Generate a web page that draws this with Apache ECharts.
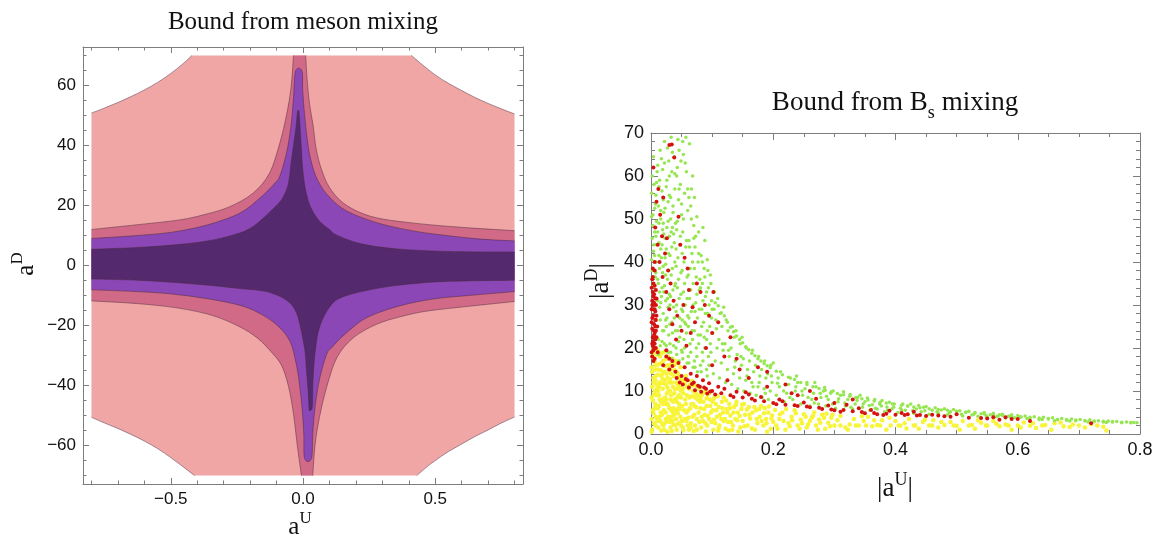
<!DOCTYPE html>
<html><head><meta charset="utf-8">
<script src="https://cdn.jsdelivr.net/npm/echarts@6/dist/echarts.min.js"></script>
<style>html,body{margin:0;padding:0;background:#fff}#c{width:1156px;height:542px}</style>
</head><body><div id="c"></div>
<script>
// ---------- Left panel: tick values ----------
const leftXTicks = [-0.5, 0, 0.5];
const leftXMinor = [-0.8,-0.7,-0.6,-0.4,-0.3,-0.2,-0.1,0.1,0.2,0.3,0.4,0.6,0.7,0.8];
const leftYTicks = [-60,-40,-20,0,20,40,60];
const leftYMinor = [-70,-65,-55,-50,-45,-35,-30,-25,-15,-10,-5,5,10,15,25,30,35,45,50,55,65,70];

// ---------- Left panel: contour regions (outlines) ----------
const region1 = [[-0.42,70],[0.41,70],[0.45,67],[0.5,63.5],[0.55,60.7],[0.6,58.3],[0.65,56],[0.7,54],[0.75,52.2],[0.8,50.5],[0.8,-50.5],[0.75,-52.5],[0.7,-54.8],[0.65,-57],[0.6,-59.5],[0.55,-62],[0.5,-65],[0.47,-67],[0.43,-70],[-0.41,-70],[-0.45,-67.3],[-0.5,-64],[-0.55,-61],[-0.6,-58.5],[-0.65,-56.3],[-0.7,-54.3],[-0.75,-52.5],[-0.8,-50.6],[-0.8,50.8],[-0.75,52.5],[-0.7,54.3],[-0.65,56.3],[-0.6,58.5],[-0.55,61],[-0.5,64],[-0.45,67.5]];
const region2 = [[-0.8,12],[-0.626,13.6],[-0.467,15.2],[-0.367,17.1],[-0.277,19.6],[-0.189,24.1],[-0.127,30.7],[-0.088,40.7],[-0.062,50.3],[-0.045,59.5],[-0.036,70],[0.01,70],[0.016,61.7],[0.025,53.7],[0.038,46.8],[0.05,38.8],[0.07,32],[0.1,26],[0.15,21],[0.22,17.5],[0.3,15.5],[0.412,14.2],[0.542,13.1],[0.671,12.3],[0.8,11.6],[0.8,-12],[0.627,-13.6],[0.468,-15.2],[0.368,-17.1],[0.278,-19.6],[0.19,-24.1],[0.128,-30.7],[0.089,-40.7],[0.063,-50.3],[0.046,-59.5],[0.037,-70],[-0.006,-70],[-0.022,-59.7],[-0.036,-49.4],[-0.055,-40.2],[-0.081,-33.3],[-0.12,-28.8],[-0.172,-24.2],[-0.24,-20.4],[-0.341,-16.7],[-0.471,-14.2],[-0.626,-12.7],[-0.8,-11.8]];
const region3 = [[-0.8,9],[-0.626,10],[-0.496,11.1],[-0.367,13.4],[-0.24,17.4],[-0.159,22.8],[-0.107,27.4],[-0.088,29.7],[-0.062,37.7],[-0.045,46.8],[-0.036,56],[-0.028,64.8],[-0.004,64.8],[-0.001,58.3],[0.006,50.3],[0.016,42.3],[0.029,35.4],[0.055,28.5],[0.1,22.8],[0.165,18.2],[0.282,14.2],[0.412,11.6],[0.542,10],[0.671,8.8],[0.8,8.2],[0.8,-8.7],[0.627,-10],[0.498,-11.1],[0.368,-13.4],[0.241,-17.4],[0.16,-22.8],[0.108,-27.4],[0.089,-29.7],[0.063,-37.7],[0.046,-46.8],[0.037,-56],[0.032,-64.3],[0.006,-64.3],[0.003,-56.2],[-0.003,-48.2],[-0.014,-39.1],[-0.027,-32.2],[-0.049,-25.3],[-0.094,-20.2],[-0.159,-16.2],[-0.237,-13.3],[-0.367,-11],[-0.496,-9.5],[-0.626,-8.7],[-0.8,-8.1]];
const region4 = [[-0.8,5.4],[-0.626,6],[-0.496,6.8],[-0.367,8.1],[-0.263,10.2],[-0.19,12.9],[-0.107,19.4],[-0.075,22.8],[-0.055,27.4],[-0.045,34.2],[-0.036,40],[-0.027,45.7],[-0.022,50.3],[-0.018,51.8],[-0.014,50.3],[-0.01,44.6],[-0.006,38.8],[-0.001,32],[0.01,25.1],[0.029,19.4],[0.062,14.8],[0.1,12],[0.126,10.2],[0.217,7.3],[0.347,5.6],[0.542,4.7],[0.8,4.5],[0.8,-4.9],[0.542,-5.3],[0.412,-6.1],[0.282,-7.6],[0.152,-10.4],[0.1,-13.9],[0.062,-20.7],[0.046,-28.8],[0.038,-37.9],[0.035,-47.1],[0.026,-48.2],[0.023,-47.7],[0.019,-41.4],[0.013,-34.8],[0.007,-28.2],[-0.012,-19.6],[-0.029,-15],[-0.063,-11.5],[-0.138,-8.7],[-0.237,-7.7],[-0.367,-6.5],[-0.496,-5.6],[-0.626,-4.9],[-0.8,-4.5]];

// ---------- Right panel: scatter points ----------
const greenPoints = [
[0.002,38],[0.004,42.5],[0.006,47],[0.003,51],[0.008,55.5],[0.005,58],[0.009,44],[0.007,36.5],[0.002,45.5],[0.004,33],[0.009,49.5],[0.006,52.5],[0.003,29],[0.008,40],[0.01,61],
[0.001,40.5],[0.005,44],[0.008,37.5],[0.003,48.5],[0.007,53.5],[0.001,56],[0.009,58.5],[0.005,34.5],[0.006,41.5],[0.002,60],[0.004,64.5],[0.008,46],[0.001,50.5],
[0.012,22],[0.015,26.5],[0.011,31],[0.018,34],[0.014,38.5],[0.017,41],[0.013,44.5],[0.019,47.5],[0.016,50],[0.012,53],[0.018,56.5],[0.014,59],[0.02,28],[0.011,36],[0.016,43],[0.019,24],[0.013,49],[0.017,64],[0.015,20.5],[0.02,39],
[0.011,25],[0.014,29.5],[0.017,32],[0.012,35],[0.019,37.5],[0.013,41.5],[0.018,44],[0.011,47],[0.016,52],[0.02,54.5],[0.013,57.5],[0.019,61.5],[0.015,66],[0.012,18.5],[0.018,21.5],[0.016,30.5],[0.014,33],[0.02,49],[0.011,62.5],
[0.022,21],[0.025,25],[0.028,29.5],[0.021,33],[0.027,36],[0.024,39.5],[0.029,42],[0.023,45.5],[0.026,48],[0.021,51.5],[0.028,54],[0.025,57.5],[0.03,60],[0.022,63],[0.027,66.5],[0.024,31],[0.029,23],[0.026,27],[0.023,41],[0.03,46],
[0.021,24],[0.024,26.5],[0.027,31.5],[0.022,34.5],[0.029,38],[0.025,43],[0.021,46.5],[0.028,49.5],[0.023,52.5],[0.03,55.5],[0.026,59],[0.022,68],[0.029,63.5],[0.025,20.5],[0.028,19],[0.024,37],[0.03,32.5],
[0.032,19],[0.035,23.5],[0.038,27],[0.031,30],[0.036,33.5],[0.033,37],[0.039,40],[0.034,43.5],[0.037,46.5],[0.032,50],[0.036,53],[0.039,57],[0.034,61],[0.038,64.5],[0.031,25.5],[0.04,35],[0.035,48],[0.033,69],
[0.031,21],[0.034,26],[0.037,29.5],[0.032,32],[0.039,34.5],[0.035,38.5],[0.031,41.5],[0.038,44.5],[0.033,47],[0.04,49],[0.036,51.5],[0.032,55],[0.039,60.5],[0.035,65.5],[0.037,20.5],[0.034,17.5],[0.04,24],
[0.042,18.5],[0.045,21.5],[0.048,25],[0.041,28.5],[0.046,31.5],[0.043,34],[0.049,37.5],[0.044,41],[0.047,44],[0.042,47.5],[0.05,51],[0.045,54.5],[0.048,58],[0.043,62],[0.046,66],[0.05,29],[0.041,39],[0.047,22.5],
[0.041,20],[0.044,24],[0.047,27],[0.042,30],[0.049,32.5],[0.045,36],[0.041,43],[0.048,46],[0.043,49.5],[0.05,53.5],[0.046,57],[0.042,60],[0.049,63.5],[0.044,68.5],[0.05,19.5],[0.046,17],
[0.052,17.5],[0.055,20],[0.058,23.5],[0.051,26.5],[0.056,30],[0.053,33],[0.059,36.5],[0.054,40],[0.057,43.5],[0.052,47],[0.06,52],[0.055,56],[0.058,61],[0.053,65],[0.057,69],[0.06,27.5],[0.051,38],
[0.051,19],[0.054,22],[0.057,25.5],[0.052,28.5],[0.059,31.5],[0.055,35],[0.051,42],[0.058,45],[0.053,50],[0.06,57],[0.056,63],[0.052,68],[0.059,16.5],[0.055,26],
[0.062,16.5],[0.065,19],[0.068,22],[0.061,25],[0.066,28.5],[0.063,31.5],[0.069,35],[0.064,38.5],[0.067,42],[0.062,45],[0.07,48.5],[0.065,53],[0.068,60],[0.063,67.5],[0.066,57],
[0.061,18],[0.064,21],[0.067,24],[0.062,27],[0.069,30],[0.065,33.5],[0.061,37],[0.068,40],[0.063,43.5],[0.07,45.5],[0.066,50],[0.062,55],[0.069,15.5],
[0.072,15.5],[0.075,18],[0.078,21],[0.071,24],[0.076,27],[0.073,30.5],[0.079,33.5],[0.074,36.5],[0.077,40],[0.072,43.5],[0.078,47],[0.075,50.5],[0.071,55],
[0.071,17],[0.074,20],[0.077,23],[0.072,28.5],[0.079,29],[0.075,32.5],[0.071,38.5],[0.078,42],[0.073,46],[0.08,36],[0.076,14.5],
[0.082,14.5],[0.085,17],[0.088,20],[0.081,23],[0.086,26],[0.083,29],[0.089,32],[0.084,35],[0.087,38.5],[0.082,41.5],[0.088,45],[0.085,48],
[0.081,16],[0.084,19],[0.087,22.5],[0.083,25],[0.089,28],[0.085,31],[0.081,34],[0.088,36.5],[0.084,40],
[0.092,13.5],[0.095,16],[0.098,19],[0.091,22],[0.096,25],[0.093,28],[0.099,31],[0.094,34],[0.097,37],[0.092,40.5],
[0.091,15],[0.094,18],[0.097,21],[0.092,24],[0.099,27],[0.095,30],[0.091,33],[0.098,35],[0.093,38],[0.1,29],
[0.102,14],[0.105,17],[0.108,20],[0.101,23.5],[0.106,26.5],[0.103,29],[0.109,31.5],[0.112,13],[0.115,16.5],[0.118,19.5],[0.111,22],[0.116,25],[0.113,28],[0.119,29.5],[0.104,33],
[0.122,12],[0.125,15],[0.128,18],[0.121,21],[0.126,24],[0.123,26.5],[0.132,11.5],[0.135,14],[0.138,17],[0.131,20],[0.136,22.5],[0.133,25],[0.142,10.5],[0.145,13],[0.148,16],[0.141,18.5],[0.146,21],[0.149,22.5],[0.139,24],
[0.152,10],[0.155,12.5],[0.158,15],[0.151,17.5],[0.156,20],[0.162,9.5],[0.165,12],[0.168,14.5],[0.161,17],[0.166,19.5],[0.172,9],[0.175,11],[0.178,13.5],[0.171,16],[0.176,18],[0.182,8.5],[0.185,10.5],[0.188,13],[0.181,15],[0.186,17],[0.192,8],[0.195,10],[0.198,12],[0.191,14],[0.196,16],[0.2,16.5],
[0.205,9],[0.21,11],[0.208,13],[0.212,14.5],[0.218,7.5],[0.222,9.5],[0.225,11.5],[0.228,13],[0.232,8],[0.236,10],[0.24,12],[0.238,13.5],[0.245,7],[0.248,9],[0.252,10.5],[0.255,12],[0.26,6.5],[0.263,8],[0.266,9.5],[0.27,11],[0.274,7],[0.278,8.5],[0.282,10],[0.286,6.5],[0.29,8],[0.294,9.5],[0.298,10],[0.268,12],[0.284,10.8],
[0.302,6],[0.306,7.5],[0.31,9],[0.315,9.8],[0.318,6.5],[0.322,8],[0.326,9.2],[0.33,5.8],[0.334,7],[0.338,8.5],[0.342,9],[0.346,6.2],[0.35,7.5],[0.354,8.4],[0.358,5.5],[0.362,6.8],[0.366,8],[0.37,5.8],[0.374,7],[0.378,7.8],[0.382,5.2],[0.386,6.3],[0.39,7.4],[0.394,5.8],[0.398,7],
[0.404,5],[0.408,6],[0.412,7],[0.416,5.5],[0.42,6.5],[0.425,7],[0.43,4.8],[0.434,5.8],[0.438,6.6],[0.442,5.2],[0.446,6.2],[0.45,6.4],[0.455,4.6],[0.46,5.5],[0.465,6.1],[0.47,4.8],[0.475,5.6],[0.48,5.9],[0.485,4.5],[0.49,5.2],[0.495,5.7],[0.5,4.8],
[0.505,5.4],[0.51,4.2],[0.515,5],[0.52,5.3],[0.525,4.4],[0.53,5],[0.535,4.1],[0.54,4.7],[0.545,5],[0.55,3.9],[0.555,4.5],[0.56,4.8],[0.565,4],[0.57,4.5],[0.575,4.6],[0.58,3.7],[0.585,4.2],[0.59,4.5],[0.595,3.8],[0.6,4.3],
[0.605,3.9],[0.612,4.2],[0.62,3.6],[0.627,4],[0.635,3.4],[0.642,3.9],[0.65,3.6],[0.657,3.8],[0.665,3.3],[0.672,3.6],[0.68,3.2],[0.688,3.5],[0.695,3.1],[0.702,3.4],[0.71,3],[0.718,3.3],[0.725,2.9],[0.732,3.1],[0.74,2.8],[0.748,3],[0.755,2.8],[0.762,2.9],[0.77,2.6],[0.778,2.8],[0.785,2.6],[0.79,2.7],
[0.105,30.5],[0.11,29.8],[0.115,28.2],[0.12,27.5],[0.125,26],[0.13,24.8],[0.135,23.8],[0.14,22.8],[0.145,22],[0.15,21.2],[0.155,20.3],[0.16,19.6],[0.165,18.8],[0.17,18.2],[0.175,17.5],[0.18,17],[0.185,16.4],[0.19,15.9],[0.195,15.4],[0.205,14.6],[0.215,13.8],[0.225,13.2],[0.235,12.7],[0.245,12],[0.255,11.5],[0.265,11],[0.275,10.6],[0.285,10.2],[0.295,9.8],[0.305,9.4],[0.315,9.1],[0.325,8.8],[0.335,8.5],[0.345,8.2],[0.355,7.9],[0.365,7.7],[0.375,7.4],[0.385,7.2],[0.395,7],[0.41,6.7],[0.42,6.5],[0.43,6.3],[0.44,6.1],[0.455,5.9],[0.47,5.7],[0.485,5.5],[0.5,5.3],[0.515,5.1],[0.53,4.9],[0.545,4.7],[0.56,4.5],[0.575,4.3],[0.59,4.1],[0.605,4],[0.62,3.9],[0.635,3.7],[0.65,3.5],[0.665,3.4],[0.68,3.35],[0.695,3.25],[0.71,3.15],[0.725,3.05],[0.74,2.95],[0.755,2.9],[0.77,2.75],[0.785,2.7],[0.795,2.6],
[0.107,24.5],[0.117,21],[0.127,19.5],[0.137,15.5],[0.147,18],[0.157,13.5],[0.167,11],[0.177,12],[0.187,9.5],[0.197,13.5],[0.207,11.8],[0.217,10],[0.227,8.5],[0.237,11],[0.247,10],[0.257,8.5],[0.267,7.2],[0.277,9.5],[0.287,8.8],[0.297,7],[0.307,8.2],[0.317,7.2],[0.327,6.2],[0.337,7.8],[0.347,7],[0.357,6.6],[0.367,6],[0.377,6.5],[0.387,5.6],[0.397,6.2],[0.41,5.6],[0.428,5.4],[0.448,5.4],[0.468,5.2],[0.488,4.9],[0.508,4.6],[0.528,4.6],[0.548,4.3],[0.568,4.2],[0.588,3.9],[0.615,3.6],[0.64,3.4],[0.66,3.1],[0.685,3],[0.715,2.8],[0.745,2.7]
];
const redPoints = [
[0.002,18],[0.004,19.5],[0.006,21],[0.003,22.5],[0.008,24],[0.005,25.5],[0.002,27],[0.007,28.5],[0.004,30],[0.009,31.5],[0.003,33],[0.006,34.5],[0.002,36],[0.005,23],[0.007,26.5],[0.003,29],[0.008,20],[0.004,32],[0.006,17.5],[0.002,24.5],[0.009,27.5],[0.005,30.5],[0.003,20.5],[0.007,22],[0.004,35],[0.01,25],[0.011,19],[0.006,38],[0.002,31],[0.008,33.5],
[0.001,19],[0.003,21.5],[0.005,24],[0.007,25],[0.001,26],[0.004,27.5],[0.006,29],[0.002,30],[0.008,30],[0.005,32.5],[0.001,34],[0.007,31.5],[0.003,36.5],[0.006,23.5],[0.009,22.5],[0.004,17],[0.002,21],[0.008,26.5],[0.005,20],[0.003,38.5],[0.001,29],[0.006,40],
[0.004,62],[0.012,57],[0.009,54],[0.015,51],[0.007,48],[0.018,46],[0.011,44],[0.023,42],[0.014,40],[0.028,38],[0.019,36.5],[0.032,35],[0.025,33],[0.037,31],[0.03,29],[0.043,27.5],[0.035,25.5],[0.05,24],[0.041,22],[0.058,20.5],[0.03,67.2],[0.034,67.3],[0.038,64.3],[0.02,55],[0.045,50.5],[0.026,45.5],[0.055,41],[0.048,44],[0.062,33.5],[0.068,29.5],[0.075,35],[0.081,33],[0.072,26],[0.088,30],[0.095,27.5],[0.102,33],[0.06,38.5],[0.053,30],[0.065,23.5],[0.1,23.5],
[0.02,16],[0.03,15],[0.025,18],[0.035,17],[0.04,14.5],[0.045,16.5],[0.05,13.5],[0.055,15.5],[0.06,12.5],[0.065,14],[0.07,12],[0.075,13.5],[0.08,11],[0.085,12.5],[0.09,10.5],[0.095,11.8],[0.1,10],[0.11,11],[0.115,9.5],[0.12,10.5],[0.125,12.5],[0.13,9],[0.14,9.8],[0.145,15],[0.15,8.5],[0.16,9.2],[0.17,7.8],[0.18,8.6],[0.19,11],[0.2,7.2],[0.21,8],[0.22,6.8],[0.23,9.5],[0.24,6.5],[0.25,7.3],[0.26,6.2],[0.27,8.2],[0.28,5.8],[0.29,6.6],[0.3,5.5],[0.31,5.2],[0.32,6.8],[0.33,5.3],[0.34,6],[0.35,4.8],[0.36,5.6],[0.37,4.6],[0.38,4.4],[0.39,5.4],[0.4,4.5],[0.41,4.9],[0.42,4.6],[0.43,5.2],[0.44,4.4],[0.45,4.2],[0.46,4.5],[0.48,4.1],[0.5,4.6],[0.52,3.8],[0.55,3.6],[0.57,3.3],[0.58,3.9],[0.6,3.5],[0.62,3],[0.72,2.5],[0.16,13],[0.22,11.5],[0.12,18],[0.14,17.5],[0.1,16],[0.09,20],[0.11,26],[0.13,22.5],[0.175,15.5],[0.26,10],[0.33,8],[0.3,7.2],[0.19,14.5],[0.24,9],
[0.042,13],[0.047,12],[0.052,11.5],[0.057,12.8],[0.062,10.8],[0.067,11.6],[0.072,10.2],[0.077,11.2],[0.082,9.8],[0.087,10.8],[0.092,9.4],[0.097,9.9],[0.035,15.8],[0.03,17.5],[0.025,19.5],[0.105,9.2],[0.135,8.6],[0.155,9.7],[0.165,8.2],[0.185,7.6],[0.205,6.9],[0.215,7.6],[0.235,6.7],[0.255,6.4],[0.275,6.1],[0.295,5.7],[0.315,5.6],[0.345,5.1],[0.365,4.9],[0.385,4.7],[0.415,4.4],[0.435,4.3],[0.47,4.3],[0.49,4],[0.54,3.7],[0.56,3.9],[0.59,3.5]
];
const yellowPoints = [
[0.002,1],[0.005,2.5],[0.008,4],[0.003,5.5],[0.007,7],[0.001,8.5],[0.006,10],[0.009,11.5],[0.004,13],[0.002,14.5],[0.008,16],[0.005,17.5],[0.003,19],[0.01,3],[0.006,6],[0.009,9],[0.004,12],[0.007,15],[0.002,18],[0.001,0.5],
[0.001,3.5],[0.004,4.8],[0.007,2],[0.003,7.8],[0.009,6.5],[0.002,11],[0.005,9.2],[0.008,13.5],[0.001,15.5],[0.006,16.8],[0.004,19.8],[0.009,18.5],[0.007,12.5],[0.01,10.5],
[0.012,1.5],[0.015,3],[0.018,4.5],[0.011,6],[0.016,7.5],[0.013,9],[0.019,10.5],[0.014,12],[0.017,13.5],[0.012,15],[0.018,16.5],[0.015,18],[0.011,19.5],[0.02,2],[0.016,5],[0.013,11],[0.019,14],[0.014,8],[0.017,0.8],[0.02,17],
[0.011,3.5],[0.014,4],[0.018,2.5],[0.013,6.5],[0.019,8],[0.012,10],[0.016,11.8],[0.011,13.8],[0.019,12.8],[0.013,16.2],[0.017,18.8],[0.02,7],[0.016,14.8],
[0.022,1],[0.025,2.8],[0.028,4],[0.021,5.5],[0.026,7],[0.023,8.5],[0.029,10],[0.024,11.5],[0.027,13],[0.022,14.5],[0.028,16],[0.025,17.5],[0.021,19],[0.03,6],[0.026,9.5],[0.023,12.5],[0.029,15],[0.024,3.5],[0.027,0.5],
[0.021,2.2],[0.024,5],[0.028,6.8],[0.022,7.5],[0.027,10.8],[0.021,11.8],[0.026,14],[0.03,12],[0.023,15.8],[0.028,18],[0.03,3.5],[0.025,8],
[0.032,1.5],[0.035,3],[0.038,4.5],[0.031,6],[0.036,7.5],[0.033,9],[0.039,10.5],[0.034,12],[0.037,13.5],[0.032,15],[0.038,16],[0.035,17.5],[0.031,10],[0.04,2],[0.036,5],[0.033,14],[0.039,8],[0.034,0.7],
[0.031,2.8],[0.034,4],[0.037,6],[0.032,8],[0.038,9.5],[0.031,12.8],[0.036,11],[0.039,14.8],[0.034,16.5],[0.04,5.5],[0.033,5.5],[0.037,2.2],
[0.042,1],[0.045,2.5],[0.048,4],[0.041,5.5],[0.046,7],[0.043,8.5],[0.049,10],[0.044,11.5],[0.047,13],[0.042,14.5],[0.048,15.5],[0.045,6],[0.041,12],[0.05,3],[0.046,9],[0.043,16.5],
[0.041,3.5],[0.044,4.8],[0.047,5.8],[0.042,7.5],[0.049,8.5],[0.043,10.5],[0.047,11],[0.05,12.5],[0.044,14],[0.049,2],[0.046,13.5],[0.04,17],
[0.052,1.5],[0.055,3.5],[0.058,5],[0.051,6.5],[0.056,8],[0.053,9.5],[0.059,11],[0.054,12.5],[0.057,13.5],[0.062,1],[0.065,2.5],[0.068,4],[0.061,5.5],[0.066,7],[0.063,8.5],[0.069,10],[0.064,11.5],[0.067,12.3],[0.072,2],[0.075,3.5],[0.078,5],[0.071,6.5],[0.076,8],[0.073,9.5],[0.079,10.5],[0.074,11.2],[0.06,2],[0.07,0.7],
[0.051,3],[0.054,5.5],[0.057,7],[0.052,10.5],[0.059,9],[0.055,11.8],[0.058,3],[0.053,0.8],[0.061,3.8],[0.064,6],[0.067,8.8],[0.062,10.5],[0.069,7],[0.065,1.5],[0.068,11.3],[0.071,4.5],[0.074,6.2],[0.077,9],[0.072,8.5],[0.079,2.8],[0.075,1],[0.08,7.5],
[0.082,1.5],[0.085,3],[0.088,4.5],[0.081,6],[0.086,7.5],[0.083,9],[0.089,10],[0.092,2],[0.095,3.5],[0.098,5],[0.091,6.5],[0.096,8],[0.093,9.2],[0.102,1],[0.105,2.5],[0.108,4],[0.101,5.5],[0.106,7],[0.103,8.3],[0.112,2],[0.115,3.5],[0.118,5],[0.111,6.3],[0.116,7.5],[0.119,8.5],[0.09,0.6],[0.11,0.8],
[0.083,4],[0.087,5.8],[0.081,8.3],[0.089,2.5],[0.085,9.5],[0.093,4.2],[0.097,6.5],[0.091,8.3],[0.099,2.8],[0.095,9.5],[0.103,3.3],[0.107,5.5],[0.101,7.5],[0.109,8.8],[0.113,4.5],[0.117,6],[0.111,1.5],[0.119,3],
[0.122,1.2],[0.126,2.8],[0.13,4.3],[0.124,5.8],[0.128,7],[0.134,2],[0.138,3.5],[0.142,5],[0.136,6.3],[0.14,7.5],[0.146,1.5],[0.15,3],[0.154,4.5],[0.148,5.8],[0.152,7],[0.158,2],[0.162,3.6],[0.166,5],[0.16,6.3],[0.17,1],[0.174,2.5],[0.178,4],[0.172,5.5],[0.18,6.5],[0.184,2],[0.188,3.5],[0.192,5],[0.186,6],[0.196,1.2],[0.2,2.8],[0.198,4.3],[0.19,0.5],
[0.121,3.5],[0.125,5],[0.129,6],[0.123,7.8],[0.127,0.8],[0.131,2.8],[0.135,5],[0.139,6.8],[0.133,1],[0.141,3.2],[0.145,4.2],[0.149,6.8],[0.143,0.6],
[0.153,1.8],[0.157,5.7],[0.161,4.5],[0.165,1.3],[0.169,6.3],[0.173,3.5],[0.177,5.8],[0.181,3],[0.185,4.8],[0.189,2.5],[0.193,6.4],[0.197,3.6],
[0.205,2],[0.21,3.5],[0.215,5],[0.22,1],[0.225,2.5],[0.23,4],[0.235,5.5],[0.24,2],[0.245,3.3],[0.25,4.6],[0.255,1.5],[0.26,3],[0.265,4.2],[0.27,2],[0.275,3.4],[0.28,4.5],[0.285,1.2],[0.29,2.6],[0.295,3.8],[0.3,2],
[0.203,5.6],[0.207,1.2],[0.211,4.6],[0.217,3],[0.221,5.8],[0.227,1.8],[0.231,3.2],[0.237,4.8],[0.243,1.2],[0.247,2.5],[0.253,4],[0.257,2.2],[0.263,3.8],[0.267,5],[0.273,1],[0.277,2.6],[0.283,3.8],[0.287,4.7],[0.293,1.8],[0.297,4.5],
[0.305,3.2],[0.31,4.2],[0.318,1.5],[0.325,2.2],[0.332,3.5],[0.34,2],[0.348,3],[0.355,4],[0.362,1.8],[0.37,2.1],[0.378,3.2],[0.385,1],[0.392,2],[0.4,3],[0.408,1.9],[0.415,2.5],[0.422,3.5],[0.43,2],[0.438,1.2],[0.445,2.8],
[0.31,2],[0.322,1],[0.335,2],[0.345,4.1],[0.352,2],[0.365,3.2],[0.375,2],[0.39,3.8],[0.405,2],[0.418,1.3],[0.432,2],[0.448,3.3],
[0.455,2],[0.462,3.2],[0.47,1.5],[0.48,2.1],[0.49,2.8],[0.5,1.9],[0.51,3],[0.52,2],[0.53,1.2],[0.54,2.6],[0.55,2],[0.56,3],[0.57,1.8],[0.58,2.2],[0.59,1],[0.6,2],[0.61,2.7],[0.62,1.9],[0.63,1.4],[0.645,2.1],[0.66,2.5],[0.675,1.8],[0.69,2.2],[0.71,1.5],[0.73,2],[0.745,0.8],
[0.46,2],[0.475,2.8],[0.495,2],[0.505,1],[0.525,2.1],[0.535,3.2],[0.548,2],[0.565,2.4],[0.585,2],[0.605,1.5],[0.625,2.5],[0.64,2],[0.655,1],[0.67,2.7],[0.685,1.6],[0.7,2],[0.72,2.3],[0.74,1.7]
];

// ---------- styling ----------
const FRAME = '#7d7d7d';
const SANS = '"Liberation Sans", Arial, sans-serif';
const SERIF = '"Liberation Serif", "Times New Roman", serif';
const regionColors = ['#f1a6a6', '#d06a87', '#8a47b5', '#55296d'];
const edgeColor = 'rgba(70,40,55,0.6)';

function minus(v, d) {
  const s = Math.abs(v).toFixed(d);
  return v < 0 ? '\u2212' + s : s;
}

// a segment lying on the plotted data border (x=±0.8 or y=±70) is drawn straight and unstroked
function onEdge(a, b) {
  return (Math.abs(a[0]) >= 0.8 && a[0] === b[0]) || (Math.abs(a[1]) >= 70 && a[1] === b[1]);
}

function buildPaths(points, api) {
  const n = points.length;
  const P = points.map(p => api.coord(p));
  const edge = points.map((p, i) => onEdge(p, points[(i + 1) % n]));
  const f = v => v.toFixed(2);
  let fill = 'M' + f(P[0][0]) + ',' + f(P[0][1]);
  let stroke = '';
  let pen = false;
  for (let i = 0; i < n; i++) {
    const j = (i + 1) % n;
    const a = P[i], b = P[j];
    if (edge[i]) { fill += 'L' + f(b[0]) + ',' + f(b[1]); pen = false; continue; }
    const prev = edge[(i - 1 + n) % n] ? a : P[(i - 1 + n) % n];
    const next = edge[j] ? b : P[(j + 1) % n];
    const c1 = [a[0] + (b[0] - prev[0]) / 6, a[1] + (b[1] - prev[1]) / 6];
    const c2 = [b[0] - (next[0] - a[0]) / 6, b[1] - (next[1] - a[1]) / 6];
    const seg = 'C' + f(c1[0]) + ',' + f(c1[1]) + ' ' + f(c2[0]) + ',' + f(c2[1]) + ' ' + f(b[0]) + ',' + f(b[1]);
    fill += seg;
    if (!pen) { stroke += 'M' + f(a[0]) + ',' + f(a[1]); pen = true; }
    stroke += seg;
  }
  return { fill: fill + 'Z', stroke: stroke };
}

function regionSeries(points, color) {
  return {
    type: 'custom', xAxisIndex: 0, yAxisIndex: 0, silent: true,
    data: points,
    renderItem: function (params, api) {
      if (params.dataIndex !== 0) return null;
      const p = buildPaths(points, api);
      return { type: 'group', children: [
        { type: 'path', shape: { pathData: p.fill }, style: { fill: color, stroke: null } },
        { type: 'path', shape: { pathData: p.stroke }, style: { fill: null, stroke: edgeColor, lineWidth: 0.8 } }
      ] };
    }
  };
}

const LINE_ON = { show: true, onZero: false, lineStyle: { color: FRAME, width: 1 } };
const LINE_OFF = { show: false, onZero: false };
function frameAxis(base, opts) { return Object.assign({ splitLine: { show: false }, axisLine: LINE_ON }, base, opts); }

const leftX = { gridIndex: 0, type: 'value', min: -0.832, max: 0.832 };
const leftY = { gridIndex: 0, type: 'value', min: -72.8, max: 72.8 };
const majorTickL = (vals) => ({ show: true, inside: true, length: 6, customValues: vals, lineStyle: { color: FRAME } });
const minorTickL = (vals) => ({ show: true, inside: true, length: 3.5, customValues: vals, lineStyle: { color: FRAME } });

const xAxes = [
  frameAxis(leftX, { position: 'bottom', axisTick: majorTickL(leftXTicks),
    axisLabel: { show: true, customValues: leftXTicks, margin: 7, fontFamily: SANS, fontSize: 17, color: '#111', formatter: v => minus(v, 1) } }),
  frameAxis(leftX, { position: 'bottom', axisLine: LINE_OFF, axisTick: minorTickL(leftXMinor), axisLabel: { show: false } }),
  frameAxis(leftX, { position: 'top', axisTick: majorTickL(leftXTicks), axisLabel: { show: false } }),
  frameAxis(leftX, { position: 'top', axisLine: LINE_OFF, axisTick: minorTickL(leftXMinor), axisLabel: { show: false } }),
  frameAxis({ gridIndex: 1, type: 'value', min: 0, max: 0.8, interval: 0.2 }, { position: 'bottom',
    axisTick: { inside: true, length: 7, lineStyle: { color: FRAME } },
    minorTick: { show: true, splitNumber: 4, length: 4, lineStyle: { color: FRAME } },
    axisLabel: { margin: 7, fontFamily: SANS, fontSize: 18, color: '#111', formatter: v => v.toFixed(1) } }),
  frameAxis({ gridIndex: 1, type: 'value', min: 0, max: 0.8, interval: 0.2 }, { position: 'top',
    axisTick: { inside: true, length: 7, lineStyle: { color: FRAME } },
    minorTick: { show: true, splitNumber: 4, length: 4, lineStyle: { color: FRAME } },
    axisLabel: { show: false } })
];
const yAxes = [
  frameAxis(leftY, { position: 'left', axisTick: majorTickL(leftYTicks),
    axisLabel: { show: true, customValues: leftYTicks, margin: 7, fontFamily: SANS, fontSize: 17, color: '#111', formatter: v => minus(v, 0) } }),
  frameAxis(leftY, { position: 'left', axisLine: LINE_OFF, axisTick: minorTickL(leftYMinor), axisLabel: { show: false } }),
  frameAxis(leftY, { position: 'right', axisTick: majorTickL(leftYTicks), axisLabel: { show: false } }),
  frameAxis(leftY, { position: 'right', axisLine: LINE_OFF, axisTick: minorTickL(leftYMinor), axisLabel: { show: false } }),
  frameAxis({ gridIndex: 1, type: 'value', min: 0, max: 70, interval: 10 }, { position: 'left',
    axisTick: { inside: true, length: 7, lineStyle: { color: FRAME } },
    minorTick: { show: true, splitNumber: 5, length: 4, lineStyle: { color: FRAME } },
    axisLabel: { margin: 7, fontFamily: SANS, fontSize: 18, color: '#111' } }),
  frameAxis({ gridIndex: 1, type: 'value', min: 0, max: 70, interval: 10 }, { position: 'right',
    axisTick: { inside: true, length: 7, lineStyle: { color: FRAME } },
    minorTick: { show: true, splitNumber: 5, length: 4, lineStyle: { color: FRAME } },
    axisLabel: { show: false } })
];

function scatter(data, color, size) {
  return { type: 'scatter', xAxisIndex: 4, yAxisIndex: 4, data: data, symbol: 'circle', symbolSize: size,
    itemStyle: { color: color, opacity: 1 }, silent: true, animation: false, clip: true, large: false };
}

const supRich = (fs) => ({ sup: { fontSize: fs, fontFamily: SERIF, verticalAlign: 'top', lineHeight: fs, fill: '#111' } });

const chart = echarts.init(document.getElementById('c'), null, { renderer: 'canvas' });
chart.setOption({
  animation: false,
  backgroundColor: '#fff',
  grid: [
    { left: 83, top: 47, width: 440, height: 437, outerBoundsMode: 'none' },
    { left: 651, top: 133, width: 489, height: 301, outerBoundsMode: 'none' }
  ],
  xAxis: xAxes,
  yAxis: yAxes,
  series: [
    regionSeries(region1, regionColors[0]),
    regionSeries(region2, regionColors[1]),
    regionSeries(region3, regionColors[2]),
    regionSeries(region4, regionColors[3]),
    scatter(yellowPoints, '#f8f43a', 4.5),
    scatter(greenPoints, '#96e651', 3.5),
    scatter(redPoints, '#d4120f', 4)
  ],
  graphic: [
    { type: 'text', x: 303, y: 22, style: { text: 'Bound from meson mixing', fontFamily: SERIF, fontSize: 25, fill: '#111', align: 'center', verticalAlign: 'middle' } },
    { type: 'text', x: 895, y: 103, style: { text: 'Bound from B{sub|s} mixing', fontFamily: SERIF, fontSize: 27, lineHeight: 38, fill: '#111', align: 'center', verticalAlign: 'middle',
        rich: { sub: { fontSize: 18, fontFamily: SERIF, verticalAlign: 'bottom', lineHeight: 20, fill: '#111' } } } },
    { type: 'text', x: 26, y: 264, rotation: Math.PI / 2, style: { text: 'a{sup|D}', fontFamily: SERIF, fontSize: 25, lineHeight: 34, fill: '#111', align: 'center', verticalAlign: 'middle', rich: supRich(17) } },
    { type: 'text', x: 300, y: 527, style: { text: 'a{sup|U}', fontFamily: SERIF, fontSize: 25, lineHeight: 34, fill: '#111', align: 'center', verticalAlign: 'middle', rich: supRich(17) } },
    { type: 'text', x: 601, y: 281, rotation: Math.PI / 2, style: { text: '|a{sup|D}|', fontFamily: SERIF, fontSize: 27, lineHeight: 36, fill: '#111', align: 'center', verticalAlign: 'middle', rich: supRich(18) } },
    { type: 'text', x: 895, y: 489, style: { text: '|a{sup|U}|', fontFamily: SERIF, fontSize: 27, lineHeight: 36, fill: '#111', align: 'center', verticalAlign: 'middle', rich: supRich(18) } }
  ]
});
</script></body></html>
